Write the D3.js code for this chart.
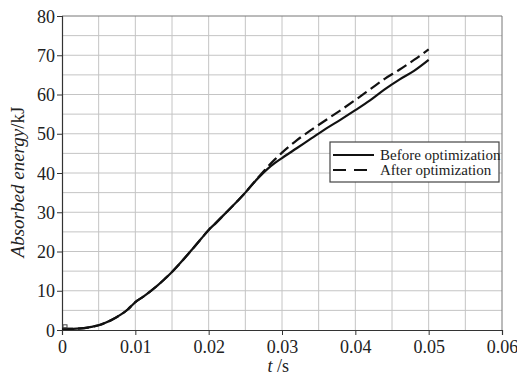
<!DOCTYPE html>
<html>
<head>
<meta charset="utf-8">
<script src="https://cdn.jsdelivr.net/npm/d3@7"></script>
<style>
  body { margin: 0; background: #fff; }
  svg text { font-family: "Liberation Serif", "Times New Roman", Times, serif; fill: #222; }
</style>
</head>
<body>
<div id="chart"></div>
<script>
// time (s) and absorbed energy (kJ)
const tBefore = [0, 0.001, 0.002, 0.003, 0.004, 0.005, 0.006, 0.007, 0.008, 0.009, 0.0095,
  0.010, 0.011, 0.012, 0.013, 0.014, 0.015, 0.016, 0.017, 0.018, 0.019, 0.020, 0.021, 0.022,
  0.023, 0.024, 0.025, 0.026, 0.027, 0.028, 0.029, 0.030, 0.032, 0.034, 0.036, 0.038, 0.040,
  0.042, 0.044, 0.046, 0.048, 0.050];
const eBefore = [0.3, 0.3, 0.35, 0.5, 0.8, 1.2, 1.9, 2.8, 3.9, 5.3, 6.2,
  7.1, 8.4, 9.8, 11.3, 13.0, 14.8, 16.8, 18.9, 21.1, 23.3, 25.5, 27.3, 29.2,
  31.1, 33.0, 35.0, 37.2, 39.2, 41.0, 42.5, 43.8, 46.3, 48.8, 51.3, 53.6, 56.0,
  58.5, 61.3, 63.8, 66.0, 68.8];
const tAfter = [0.027, 0.028, 0.029, 0.030, 0.032, 0.034, 0.036, 0.038, 0.040,
  0.042, 0.044, 0.046, 0.048, 0.050];
const eAfter = [39.4, 41.5, 43.4, 45.2, 48.3, 51.0, 53.5, 56.0, 58.6,
  61.3, 64.0, 66.3, 68.8, 71.5];

const xTicks = [0, 0.01, 0.02, 0.03, 0.04, 0.05, 0.06];
const yTicks = [0, 10, 20, 30, 40, 50, 60, 70, 80];
const legendLabels = ['Before optimization', 'After optimization'];

const width = 517, height = 376;
const margin = { top: 16, right: 15, bottom: 46, left: 62 };

const svg = d3.select('#chart').append('svg')
  .attr('width', width)
  .attr('height', height);

const x = d3.scaleLinear().domain([0, 0.06]).range([margin.left, width - margin.right]);
const y = d3.scaleLinear().domain([0, 80]).range([height - margin.bottom, margin.top]);

// grid every half step
const grid = svg.append('g').attr('class', 'grid');
grid.selectAll('.gx')
  .data(d3.range(1, 12).map(i => i * 0.005))
  .enter().append('line')
  .attr('x1', d => x(d)).attr('x2', d => x(d))
  .attr('y1', y(0)).attr('y2', y(80))
  .attr('stroke', '#c4c4c4').attr('stroke-width', 1);
grid.selectAll('.gy')
  .data(d3.range(1, 16).map(i => i * 5))
  .enter().append('line')
  .attr('x1', x(0)).attr('x2', x(0.06))
  .attr('y1', d => y(d)).attr('y2', d => y(d))
  .attr('stroke', '#c4c4c4').attr('stroke-width', 1);

// frame top / right
svg.append('line')
  .attr('x1', x(0)).attr('x2', x(0.06)).attr('y1', y(80)).attr('y2', y(80))
  .attr('stroke', '#777');
svg.append('line')
  .attr('x1', x(0.06)).attr('x2', x(0.06)).attr('y1', y(0)).attr('y2', y(80))
  .attr('stroke', '#777');

const xAxis = d3.axisBottom(x).tickValues(xTicks)
  .tickFormat(d => d === 0 ? '0' : d3.format('.2f')(d)).tickSizeOuter(0).tickSize(5);
const yAxis = d3.axisLeft(y).tickValues(yTicks).tickFormat(d3.format('d')).tickSizeOuter(0).tickSize(5);

const gx = svg.append('g').attr('transform', `translate(0,${y(0)})`).call(xAxis);
const gy = svg.append('g').attr('transform', `translate(${x(0)},0)`).call(yAxis);
[gx, gy].forEach(g => {
  g.attr('font-family', null);
  g.select('.domain').attr('stroke', '#333').attr('stroke-width', 1.2);
  g.selectAll('.tick line').attr('stroke', '#333');
  g.selectAll('.tick text').attr('font-size', 18).attr('fill', '#222');
});
gx.selectAll('.tick text').attr('dy', '0.85em');
gy.selectAll('.tick text').attr('dx', '0.05em').attr('dy', '0.34em');

// axis titles
const xt = svg.append('text')
  .attr('x', x(0.0295)).attr('y', 372)
  .attr('text-anchor', 'middle').attr('font-size', 18);
xt.append('tspan').attr('font-style', 'italic').text('t');
xt.append('tspan').text(' /s');

const yt = svg.append('text')
  .attr('transform', `translate(24,182) rotate(-90)`)
  .attr('text-anchor', 'middle').attr('font-size', 19);
yt.append('tspan').attr('font-style', 'italic').text('Absorbed energy');
yt.append('tspan').text('/kJ');

// curves
const line = d3.line().x(d => x(d[0])).y(d => y(d[1])).curve(d3.curveMonotoneX);
const before = tBefore.map((t, i) => [t, eBefore[i]]);
const afterStart = before.filter(d => d[0] < tAfter[0]);
const after = afterStart.concat(tAfter.map((t, i) => [t, eAfter[i]]));

svg.append('path').datum(after)
  .attr('d', line).attr('fill', 'none')
  .attr('stroke', '#111').attr('stroke-width', 2.2)
  .attr('stroke-dasharray', '11,5');
svg.append('path').datum(before)
  .attr('d', line).attr('fill', 'none')
  .attr('stroke', '#111').attr('stroke-width', 2.2);

// small square marker at the origin
svg.append('rect').datum(before[0])
  .attr('x', d => x(d[0]) + 1).attr('y', d => y(d[1]) - 4)
  .attr('width', 4).attr('height', 3)
  .attr('fill', 'none').attr('stroke', '#444').attr('stroke-width', 1);

// legend
const lg = svg.append('g').attr('transform', 'translate(330,142)');
lg.append('rect')
  .attr('width', 169).attr('height', 40)
  .attr('fill', '#fff').attr('stroke', '#444').attr('stroke-width', 1.2);
legendLabels.forEach((lab, i) => {
  const yy = 13 + i * 15;
  lg.append('line')
    .attr('x1', 3).attr('x2', 44).attr('y1', yy).attr('y2', yy)
    .attr('stroke', '#111').attr('stroke-width', 2)
    .attr('stroke-dasharray', i === 1 ? '13,8' : null);
  lg.append('text')
    .attr('x', 50).attr('y', yy + 5)
    .attr('font-size', 15).text(lab);
});
</script>
</body>
</html>
